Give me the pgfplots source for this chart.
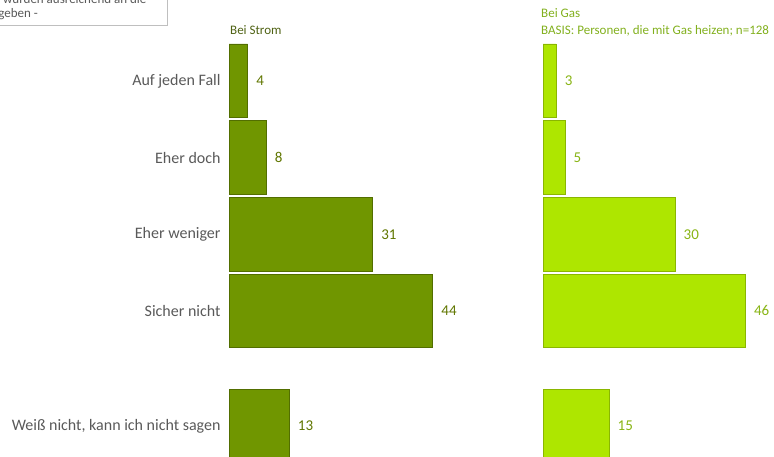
\documentclass[border=0pt]{standalone}
\usepackage{pgfplots}
\pgfplotsset{compat=1.18}
\usepackage{fontspec}
\setmainfont{Carlito}
\definecolor{lfill}{RGB}{112,150,0}
\definecolor{ldraw}{RGB}{82,110,0}
\definecolor{rfill}{RGB}{174,230,0}
\definecolor{rdraw}{RGB}{138,182,0}
\definecolor{llab}{RGB}{96,118,0}
\definecolor{rlab}{RGB}{136,180,20}
\definecolor{catgray}{RGB}{89,89,89}
\definecolor{hstrom}{RGB}{79,98,20}
\definecolor{hgas}{RGB}{130,176,30}
\definecolor{boxgray}{RGB}{191,191,191}
\pgfplotsset{
  panel/.style={
    scale only axis,
    y dir=reverse,
    xmin=0, xmax=50,
    ymin=-0.5, ymax=5,
    height=421.85pt,
    xbar,
    bar width=73.7pt,
    axis line style={draw=none},
    tick style={draw=none},
    xtick=\empty,
    clip=false,
    nodes near coords,
    /pgf/number format/assume math mode=true,
  }
}
\begin{document}
\begin{tikzpicture}[x=1pt,y=1pt]
\useasboundingbox (0,0) rectangle (774,457);
\clip (0,0) rectangle (774,457);
% note box (cut off at the picture's edge, as in the reference)
\draw[boxgray, fill=white] (-5,470) rectangle (167,432);
\node[anchor=base west, inner sep=0pt, text=catgray, font=\fontsize{13}{15}\selectfont] at (3,453.5) {würden ausreichend an die};
\node[anchor=base east, inner sep=0pt, text=catgray, font=\fontsize{13}{15}\selectfont] at (38,439) {weitergeben -};
% headers
\node[anchor=base west, inner sep=0pt, text=hstrom, font=\fontsize{13}{15}\selectfont] at (230,422) {Bei Strom};
\node[anchor=base west, inner sep=0pt, text=hgas, font=\fontsize{13}{15}\selectfont] at (541,439) {Bei Gas};
\node[anchor=base west, inner sep=0pt, text=hgas, font=\fontsize{13}{15}\selectfont] at (541,422) {BASIS: Personen, die mit Gas heizen; n=128};
% left panel
\begin{axis}[panel,
  at={(229pt,414.5pt)}, anchor=north west,
  width=231.5pt,
  ytick={0,1,2,3,4.5},
  yticklabels={Auf jeden Fall, Eher doch, Eher weniger, Sicher nicht, {Weiß nicht, kann ich nicht sagen}},
  yticklabel style={text=catgray, font=\fontsize{16}{18}\selectfont, inner sep=0pt, xshift=-4pt},
  every node near coord/.append style={anchor=west, text=llab, font=\fontsize{15}{17}\selectfont, xshift=5pt},
]
\addplot[fill=lfill, draw=ldraw, line width=0.8pt] coordinates {(4,0) (8,1) (31,2) (44,3) (13,4.5)};
\end{axis}
% right panel
\begin{axis}[panel,
  at={(543pt,414.5pt)}, anchor=north west,
  width=220pt,
  ytick=\empty,
  every node near coord/.append style={anchor=west, text=rlab, font=\fontsize{15}{17}\selectfont, xshift=5pt},
]
\addplot[fill=rfill, draw=rdraw, line width=0.8pt] coordinates {(3,0) (5,1) (30,2) (46,3) (15,4.5)};
\end{axis}
\end{tikzpicture}
\end{document}
